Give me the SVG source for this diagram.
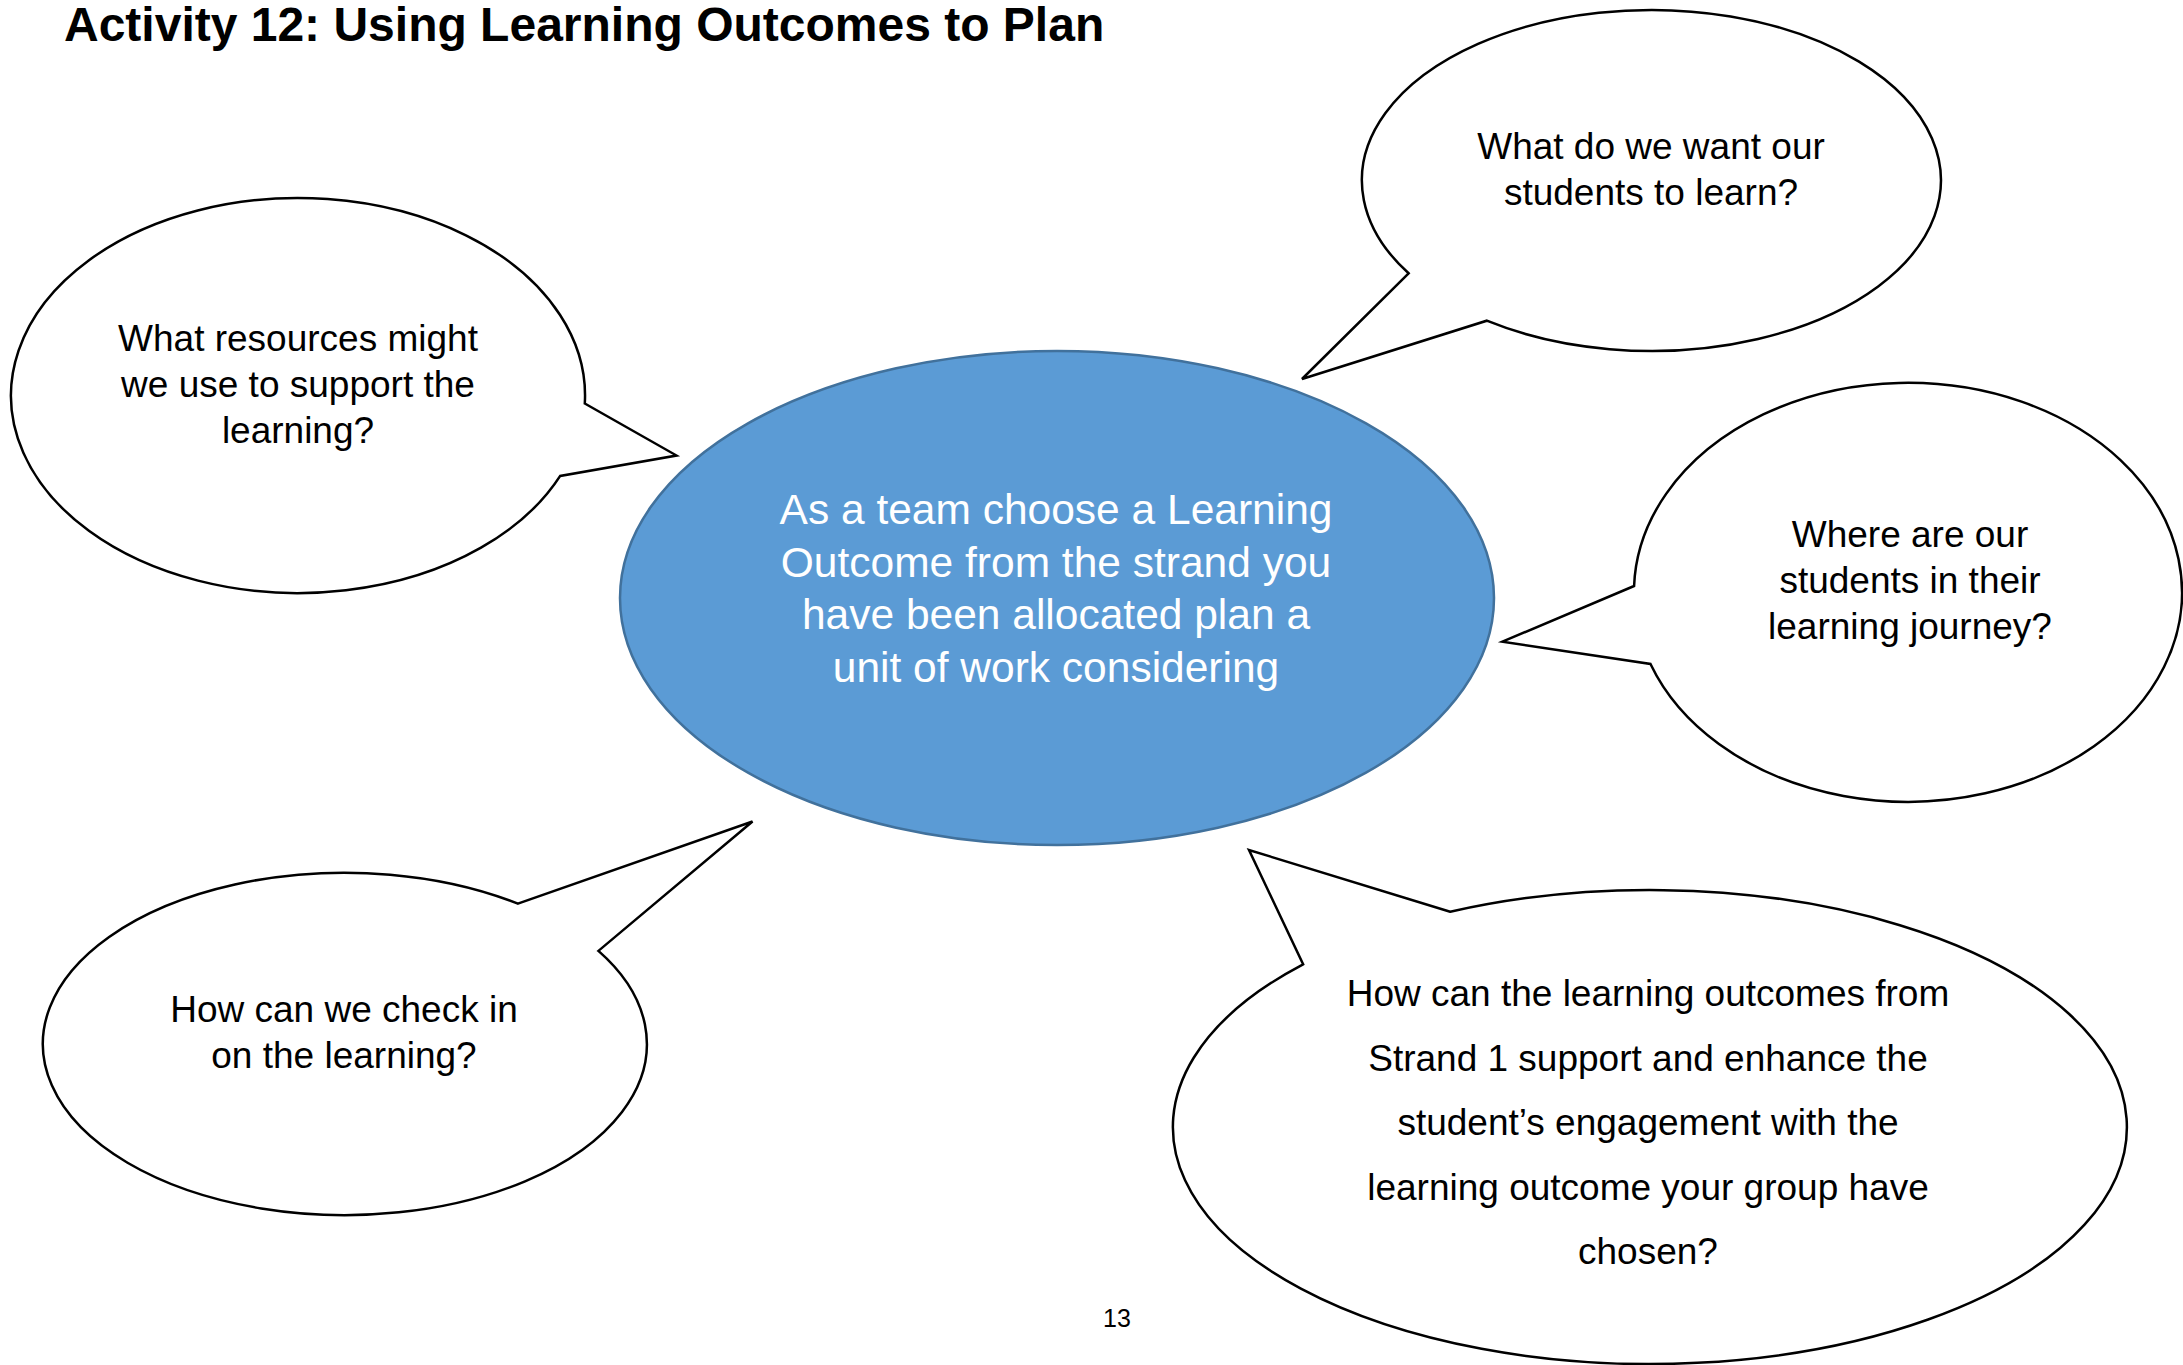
<svg xmlns="http://www.w3.org/2000/svg" width="2183" height="1365" viewBox="0 0 2183 1365">
<style>
  .bubble { fill: #ffffff; stroke: #000000; stroke-width: 2.5; stroke-linejoin: miter; }
  .txt { font-family: "Liberation Sans", Arial, sans-serif; font-size: 37px; fill: #000000; text-anchor: middle; }
  .ctxt { font-family: "Liberation Sans", Arial, sans-serif; font-size: 42.5px; fill: #ffffff; text-anchor: middle; }
  .title { font-family: "Liberation Sans", Arial, sans-serif; font-size: 48px; font-weight: bold; fill: #000000; }
  .pg { font-family: "Liberation Sans", Arial, sans-serif; font-size: 25px; fill: #000000; text-anchor: middle; }
</style>
<rect x="0" y="0" width="2183" height="1365" fill="#ffffff"/>
<text class="title" x="64" y="41">Activity 12: Using Learning Outcomes to Plan</text>

<g id="center">
  <ellipse cx="1057" cy="598" rx="437" ry="247" fill="#5B9BD5" stroke="#41719C" stroke-width="2.5"/>
  <text class="ctxt" x="1056" y="524">As a team choose a Learning</text>
  <text class="ctxt" x="1056" y="576.5">Outcome from the strand you</text>
  <text class="ctxt" x="1056" y="629">have been allocated plan a</text>
  <text class="ctxt" x="1056" y="681.5">unit of work considering</text>
</g>

<g id="connectors"></g>

<g id="bubble-want">
  <path class="bubble" d="M 1408.6 273.3 L 1302 379 L 1486.8 320.7 A 289.5 170.5 0 1 0 1408.6 273.3 Z"/>
  <text class="txt" x="1651" y="159">What do we want our</text>
  <text class="txt" x="1651" y="205">students to learn?</text>
</g>

<g id="bubble-resources">
  <path class="bubble" d="M 584.8 403.5 L 676.5 455.5 L 560.2 475.9 A 287 197.5 0 1 1 584.8 403.5 Z"/>
  <text class="txt" x="298" y="351">What resources might</text>
  <text class="txt" x="298" y="397">we use to support the</text>
  <text class="txt" x="298" y="443">learning?</text>
</g>

<g id="bubble-where">
  <path class="bubble" d="M 1634.1 586 L 1502.4 641.7 L 1650.5 664 A 274 209.5 0 1 0 1634.1 586 Z"/>
  <text class="txt" x="1910" y="547">Where are our</text>
  <text class="txt" x="1910" y="593">students in their</text>
  <text class="txt" x="1910" y="639">learning journey?</text>
</g>

<g id="bubble-check">
  <path class="bubble" d="M 517.9 903.6 L 752.5 821.5 L 598.4 950.9 A 302 171.2 0 1 1 517.9 903.6 Z"/>
  <text class="txt" x="344" y="1022">How can we check in</text>
  <text class="txt" x="344" y="1068">on the learning?</text>
</g>

<g id="bubble-strand">
  <path class="bubble" d="M 1450.2 911.8 L 1249 850 L 1303.1 964.3 A 477 237 0 1 0 1450.2 911.8 Z"/>
  <text class="txt" x="1648" y="1006">How can the learning outcomes from</text>
  <text class="txt" x="1648" y="1070.5">Strand 1 support and enhance the</text>
  <text class="txt" x="1648" y="1135">student’s engagement with the</text>
  <text class="txt" x="1648" y="1199.5">learning outcome your group have</text>
  <text class="txt" x="1648" y="1264">chosen?</text>
</g>

<text class="pg" x="1117" y="1327">13</text>
</svg>
